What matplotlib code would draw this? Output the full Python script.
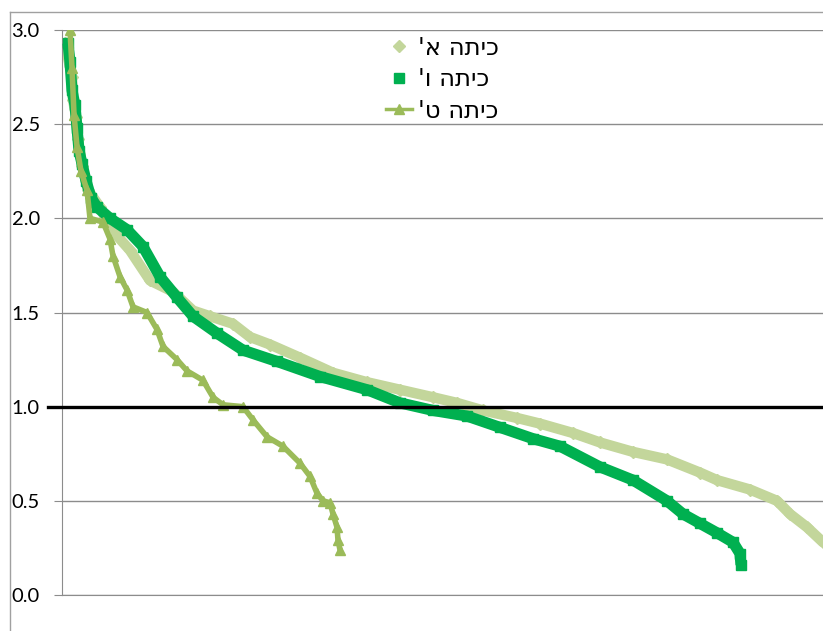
import matplotlib
matplotlib.use("Agg")
import matplotlib.pyplot as plt
from matplotlib.lines import Line2D
import matplotlib.transforms as mtransforms

# series labels (logical order, Hebrew)
labels = ["כיתה א'", "כיתה ו'", "כיתה ט'"]
colors = ["#C3D69B", "#00B050", "#9BBB59"]

# rank position and score
x_a = [3, 10, 11, 14, 16, 20, 26, 38, 48, 68, 88, 111, 131, 148, 171, 188, 208,
       238, 271, 305, 338, 371, 395, 421, 455, 478, 511, 538, 571, 605, 638,
       655, 688, 715, 728, 745, 761]
y_a = [2.93, 2.75, 2.63, 2.54, 2.42, 2.28, 2.15, 2.06, 1.95, 1.83, 1.67, 1.61,
       1.51, 1.48, 1.44, 1.37, 1.33, 1.26, 1.18, 1.13, 1.09, 1.05, 1.02, 0.98,
       0.94, 0.91, 0.86, 0.81, 0.76, 0.72, 0.65, 0.61, 0.56, 0.50, 0.43, 0.36,
       0.28]

x_b = [6, 8, 10, 13, 15, 17, 20, 24, 29, 35, 48, 65, 81, 98, 115, 131, 155,
       181, 215, 258, 305, 338, 371, 405, 438, 471, 498, 538, 571, 605, 621,
       638, 655, 671, 678, 679]
y_b = [2.93, 2.83, 2.68, 2.60, 2.48, 2.36, 2.29, 2.20, 2.11, 2.06, 2.00, 1.94,
       1.85, 1.69, 1.58, 1.48, 1.39, 1.30, 1.24, 1.16, 1.09, 1.02, 0.98, 0.95,
       0.89, 0.83, 0.79, 0.68, 0.61, 0.50, 0.43, 0.38, 0.33, 0.28, 0.22, 0.16]

x_c = [8, 10, 12, 15, 19, 25, 28, 41, 48, 51, 58, 65, 71, 85, 95, 101, 115,
       125, 141, 151, 161, 181, 191, 205, 221, 238, 248, 255, 261, 268, 271,
       275, 276, 278]
y_c = [3.00, 2.80, 2.55, 2.38, 2.25, 2.15, 2.00, 1.98, 1.89, 1.80, 1.69, 1.62,
       1.53, 1.50, 1.41, 1.32, 1.25, 1.19, 1.14, 1.05, 1.01, 1.00, 0.93, 0.84,
       0.79, 0.70, 0.63, 0.54, 0.50, 0.49, 0.43, 0.36, 0.29, 0.24]

yticks = [0.0, 0.5, 1.0, 1.5, 2.0, 2.5, 3.0]

fig = plt.figure(figsize=(8.23, 6.31), dpi=100)
ax = fig.add_axes([62/823, 36/631, 761/823, 565/631])

# dense marker bands
ax.plot(x_a, y_a, color=colors[0], lw=7.5, solid_capstyle="round", zorder=2)
ax.plot(x_a, y_a, ls="none", marker="D", ms=6, color=colors[0], zorder=2)
ax.plot(x_b, y_b, color=colors[1], lw=8, solid_capstyle="butt", zorder=3)
ax.plot(x_b, y_b, ls="none", marker="s", ms=7, color=colors[1], zorder=3)
ax.plot(x_c, y_c, color=colors[2], lw=4, zorder=4)
ax.plot(x_c, y_c, ls="none", marker="^", ms=7.5, color=colors[2], zorder=4)

# reference line at 1.0 (sticks out past the axis)
trans = mtransforms.blended_transform_factory(ax.transAxes, ax.transData)
ax.plot([-0.018, 1.0], [1.0, 1.0], color="black", lw=2.4, transform=trans,
        clip_on=False, zorder=5)

ax.set_xlim(0, 761)
ax.set_ylim(0, 3.0)
ax.set_yticks(yticks)
ax.set_yticklabels(["%.1f" % t for t in yticks], fontsize=14.5, family="Lato")
ax.set_xticks([])
ax.grid(axis="y", color="#8C8C8C", lw=1)
ax.set_axisbelow(True)
ax.tick_params(axis="y", length=6, color="#8C8C8C", pad=10)
for s in ["top", "right"]:
    ax.spines[s].set_visible(False)
ax.spines["left"].set_color("#8C8C8C")
ax.spines["bottom"].set_color("#8C8C8C")
ax.patch.set_visible(False)

# legend (matplotlib has no bidi, so show Hebrew in visual order)
handles = [
    Line2D([], [], ls="none", marker="D", ms=6, color=colors[0]),
    Line2D([], [], ls="none", marker="s", ms=7, color=colors[1]),
    Line2D([], [], ls="-", lw=2.5, marker="^", ms=7, color=colors[2]),
]
leg = ax.legend(handles, [l[::-1] for l in labels], loc="upper left",
                bbox_to_anchor=(386/823, 1 - 36/631), bbox_transform=fig.transFigure,
                frameon=False, prop={"family": "DejaVu Sans", "size": 17.5},
                handlelength=1.05, handletextpad=0.25, labelspacing=0.3,
                borderpad=0, borderaxespad=0)

# outer chart frame
fig.add_artist(Line2D([9.5/823, 9.5/823], [0, 1 - 12/631], color="#A0A0A0", lw=1))
fig.add_artist(Line2D([9.5/823, 1], [1 - 12/631, 1 - 12/631], color="#A0A0A0", lw=1))

fig.savefig("out.png", dpi=100)
